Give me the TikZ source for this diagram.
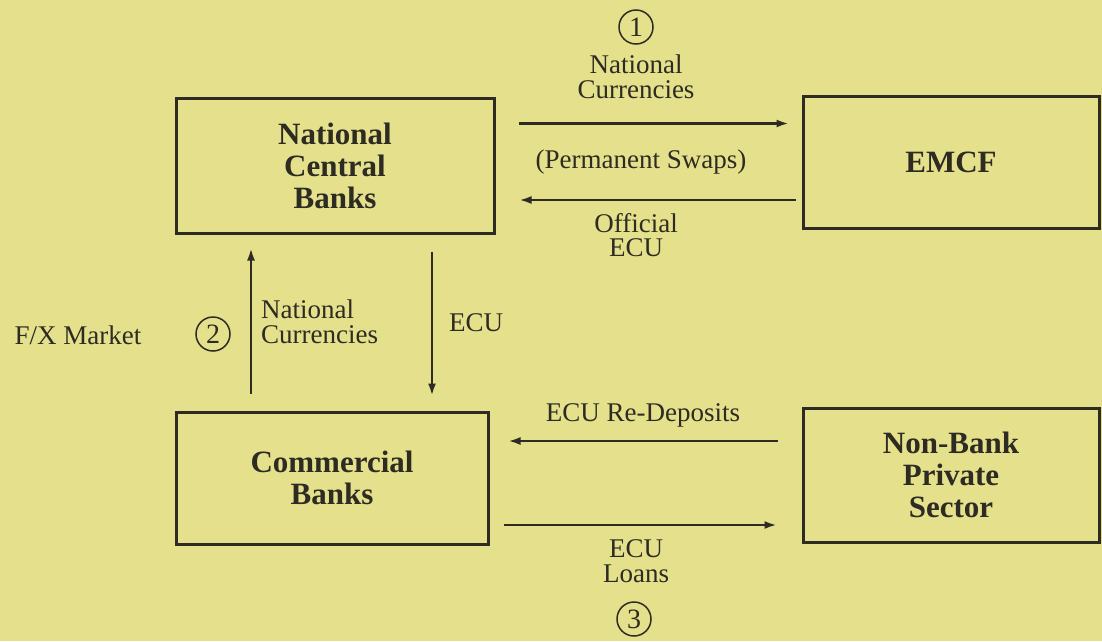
\documentclass[tikz,border=0pt]{standalone}
\usepackage{fontspec}
\setmainfont{Liberation Serif}
\usetikzlibrary{arrows.meta, positioning}
\definecolor{paper}{RGB}{228,224,140}
\definecolor{ink}{RGB}{45,43,34}

\begin{document}
\begin{tikzpicture}[x=1pt, y=-1pt,
        box/.style={rectangle, draw=ink, line width=3pt, align=center, text=ink, inner sep=0pt, font=\fontsize{31}{32}\selectfont\bfseries},
        lbl/.style={align=center, text=ink, inner sep=0pt, font=\fontsize{27}{24.5}\selectfont},
        num/.style={circle, draw=ink, line width=1.5pt, text=ink, minimum size=34pt, inner sep=0pt, font=\fontsize{28}{24}\selectfont},
        flow/.style={draw=ink, line width=2.1pt, -{Latex[length=12pt, width=8pt]}}]

        \fill[paper] (0,0) rectangle (1102,641);
        \useasboundingbox (0,0) rectangle (1102,641);

        % the four sectors
        \node [box, minimum width=318pt, minimum height=135pt] (ncb) at (335,165.5) {National\\Central\\Banks};
        \node [box, minimum width=296pt, minimum height=132pt] (emcf) at (951,162) {EMCF};
        \node [box, minimum width=312pt, minimum height=132pt] (cb) at (332,478) {Commercial\\Banks};
        \node [box, minimum width=296pt, minimum height=134pt] (nbps) at (951,475) {Non-Bank\\Private\\Sector};

        % flows
        \draw [flow, shorten <=23pt, shorten >=13pt] ([yshift=42pt]ncb.east) -- ([yshift=42pt]ncb.east -| emcf.west);
        \draw [flow, shorten <=6pt, shorten >=24pt] ([yshift=-38pt]emcf.west) -- ([yshift=-38pt]emcf.west -| ncb.east);
        \draw [flow, shorten <=17pt, shorten >=14pt] ([xshift=-84pt]ncb.south |- cb.north) -- ([xshift=-84pt]ncb.south);
        \draw [flow, shorten <=17pt, shorten >=15pt] ([xshift=97pt]ncb.south) -- ([xshift=97pt]ncb.south |- cb.north);
        \draw [flow, shorten <=24pt, shorten >=19pt] ([yshift=34pt]nbps.west) -- ([yshift=34pt]nbps.west -| cb.east);
        \draw [flow, shorten <=14pt, shorten >=25pt] ([yshift=-50pt]nbps.west -| cb.east) -- ([yshift=-50pt]nbps.west);

        % numbered markets
        \node [num] (m1) at (636,27) {1};
        \node [num] (m2) at (213,334) {2};
        \node [num] (m3) at (634,619) {3};

        % flow labels
        \node [lbl] (natcur) at (636,77) {National\\Currencies};
        \node [lbl] (swaps) at (641,162) {(Permanent Swaps)};
        \node [lbl] (offecu) at (636,235) {Official\\ECU};
        \node [lbl] (fx) at (78,335) {F/X Market};
        \node [lbl, align=left, anchor=west] (natcur2) at (261,322) {National\\Currencies};
        \node [lbl] (ecu) at (476,323) {ECU};
        \node [lbl] (redep) at (643,415) {ECU Re-Deposits};
        \node [lbl] (loans) at (636,561) {ECU\\Loans};
\end{tikzpicture}
\end{document}
